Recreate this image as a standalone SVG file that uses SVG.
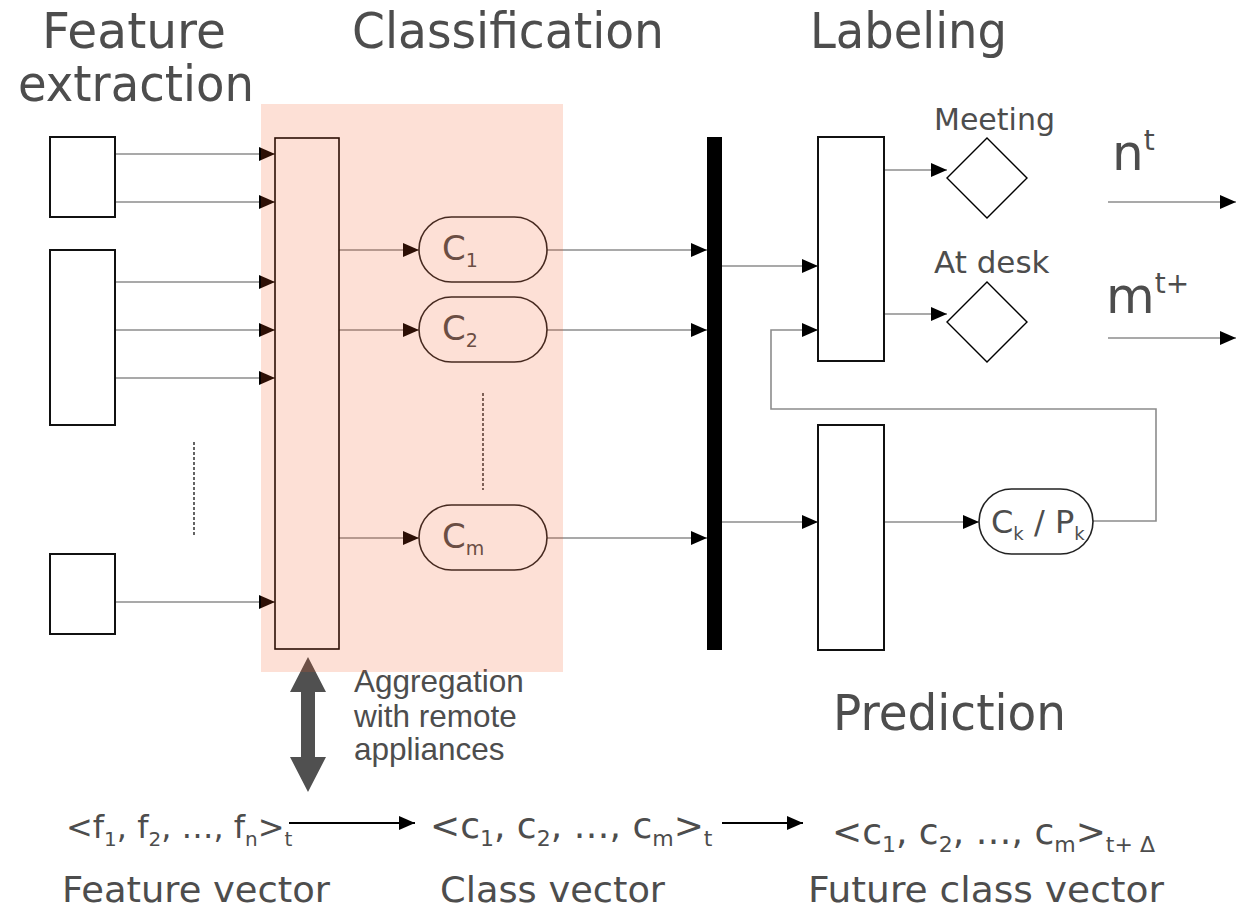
<svg xmlns="http://www.w3.org/2000/svg" width="1238" height="912" viewBox="0 0 1238 912">
<defs>
<style>
.t{font-family:"DejaVu Sans",Verdana,sans-serif;fill:#4d4d4d}
.a{font-family:"Liberation Sans",Arial,sans-serif;fill:#4d4d4d}
.box{fill:#fff;stroke:#111;stroke-width:2}
.pill{fill:#fff;stroke:#222;stroke-width:1.6}
.ln{fill:none;stroke:#8c8c8c;stroke-width:1.6}
.dot{fill:none;stroke:#111;stroke-width:1.3;stroke-dasharray:3 2}
</style>
<marker id="ah" viewBox="0 0 16 14" refX="16" refY="7" markerWidth="16" markerHeight="14" markerUnits="userSpaceOnUse" orient="auto">
<path d="M0,0 L16,7 L0,14 z" fill="#000"/>
</marker>
</defs>
<rect width="1238" height="912" fill="#fff"/>

<g id="titles">
<text class="t" x="42" y="48" font-size="50" textLength="184" lengthAdjust="spacingAndGlyphs">Feature</text>
<text class="t" x="18" y="101" font-size="50" textLength="236" lengthAdjust="spacingAndGlyphs">extraction</text>
<text class="t" x="352" y="48" font-size="50" textLength="312" lengthAdjust="spacingAndGlyphs">Classification</text>
<text class="t" x="810" y="48" font-size="50" textLength="197" lengthAdjust="spacingAndGlyphs">Labeling</text>
<text class="t" x="833" y="730" font-size="50" textLength="233" lengthAdjust="spacingAndGlyphs">Prediction</text>
</g>

<g id="connectors">
<line class="ln" x1="115" y1="154" x2="275" y2="154" marker-end="url(#ah)"/>
<line class="ln" x1="115" y1="202" x2="275" y2="202" marker-end="url(#ah)"/>
<line class="ln" x1="115" y1="282" x2="275" y2="282" marker-end="url(#ah)"/>
<line class="ln" x1="115" y1="330" x2="275" y2="330" marker-end="url(#ah)"/>
<line class="ln" x1="115" y1="378" x2="275" y2="378" marker-end="url(#ah)"/>
<line class="ln" x1="115" y1="602" x2="275" y2="602" marker-end="url(#ah)"/>
<line class="ln" x1="339" y1="250" x2="419" y2="250" marker-end="url(#ah)"/>
<line class="ln" x1="339" y1="330" x2="419" y2="330" marker-end="url(#ah)"/>
<line class="ln" x1="339" y1="538" x2="419" y2="538" marker-end="url(#ah)"/>
<line class="ln" x1="547" y1="250" x2="707" y2="250" marker-end="url(#ah)"/>
<line class="ln" x1="547" y1="330" x2="707" y2="330" marker-end="url(#ah)"/>
<line class="ln" x1="547" y1="538" x2="707" y2="538" marker-end="url(#ah)"/>
<line class="ln" x1="722" y1="266" x2="818" y2="266" marker-end="url(#ah)"/>
<line class="ln" x1="722" y1="522" x2="818" y2="522" marker-end="url(#ah)"/>
<line class="ln" x1="884" y1="170" x2="947" y2="170" marker-end="url(#ah)"/>
<line class="ln" x1="884" y1="314" x2="947" y2="314" marker-end="url(#ah)"/>
<line class="ln" x1="884" y1="522" x2="979" y2="522" marker-end="url(#ah)"/>
<path class="ln" d="M1093,521 H1156 V409 H771 V330 H818" marker-end="url(#ah)"/>
<line class="ln" x1="1108" y1="202" x2="1236" y2="202" marker-end="url(#ah)"/>
<line class="ln" x1="1108" y1="338" x2="1236" y2="338" marker-end="url(#ah)"/>
<line x1="289" y1="823" x2="415" y2="823" stroke="#000" stroke-width="2.2" marker-end="url(#ah)"/>
<line x1="722" y1="823" x2="803" y2="823" stroke="#000" stroke-width="2.2" marker-end="url(#ah)"/>
<line class="dot" x1="194" y1="442" x2="194" y2="537"/>
<line class="dot" x1="483" y1="393" x2="483" y2="490"/>
<polygon id="double-arrow" points="308,657 326,692 315,692 315,757 326,757 308,792 290,757 301,757 301,692 290,692" fill="#505050"/>
</g>

<g id="input1"><rect class="box" x="50" y="137" width="65" height="80"/></g>
<g id="input2"><rect class="box" x="50" y="250" width="65" height="175"/></g>
<g id="input3"><rect class="box" x="50" y="554" width="65" height="80"/></g>
<g id="aggregator"><rect x="275" y="138" width="64" height="511" fill="#fff" stroke="#000" stroke-width="1.6"/></g>

<g id="c1"><rect class="pill" x="419" y="217" width="128" height="65" rx="32.5"/>
<text class="t" x="442" y="260" font-size="34">C<tspan font-size="19" dy="7">1</tspan></text></g>
<g id="c2"><rect class="pill" x="419" y="297" width="128" height="65" rx="32.5"/>
<text class="t" x="442" y="340" font-size="34">C<tspan font-size="19" dy="7">2</tspan></text></g>
<g id="cm"><rect class="pill" x="419" y="505" width="128" height="65" rx="32.5"/>
<text class="t" x="442" y="548" font-size="34">C<tspan font-size="19" dy="7">m</tspan></text></g>

<g id="bar"><rect x="707" y="137" width="15" height="513" fill="#000"/></g>

<g id="labeling-box"><rect class="box" x="818" y="137" width="66" height="224" stroke-width="1.6"/></g>
<g id="prediction-box"><rect class="box" x="818" y="425" width="66" height="225" stroke-width="1.6"/></g>

<g id="meeting">
<polygon points="987,138 1027,178 987,218 947,178" fill="#fff" stroke="#000" stroke-width="1.4"/>
<text class="t" x="934" y="130" font-size="30">Meeting</text>
</g>
<g id="atdesk">
<polygon points="987,282 1027,322 987,362 947,322" fill="#fff" stroke="#000" stroke-width="1.4"/>
<text class="t" x="934" y="273" font-size="31">At desk</text>
</g>

<g id="ckpk"><rect class="pill" x="979" y="489" width="114" height="65" rx="32.5"/>
<text class="t" x="991" y="533" font-size="32">C<tspan font-size="18" dy="7">k</tspan><tspan dy="-7"> / P</tspan><tspan font-size="18" dy="7">k</tspan></text></g>

<g id="nt"><text class="t" x="1112" y="170" font-size="50">n<tspan font-size="28" dy="-20">t</tspan></text></g>
<g id="mt"><text class="t" x="1106" y="313" font-size="50">m<tspan font-size="28" dy="-20">t+</tspan></text></g>

<g id="aggregation-label">
<text class="a" x="354" y="692" font-size="31.5">Aggregation</text>
<text class="a" x="354" y="727" font-size="31.5">with remote</text>
<text class="a" x="354" y="760" font-size="31.5">appliances</text>
</g>

<g id="feature-vector">
<text class="t" x="66" y="838" font-size="32">&lt;f<tspan font-size="20" dy="8">1</tspan><tspan dy="-8">, f</tspan><tspan font-size="20" dy="8">2</tspan><tspan dy="-8">, …, f</tspan><tspan font-size="20" dy="8">n</tspan><tspan dy="-8">&gt;</tspan><tspan font-size="20" dy="8">t</tspan></text>
<text class="t" x="62" y="902" font-size="35" textLength="268" lengthAdjust="spacingAndGlyphs">Feature vector</text>
</g>
<g id="class-vector">
<text class="t" x="430" y="838" font-size="36">&lt;c<tspan font-size="22" dy="8">1</tspan><tspan dy="-8">, c</tspan><tspan font-size="22" dy="8">2</tspan><tspan dy="-8">, …, c</tspan><tspan font-size="22" dy="8">m</tspan><tspan dy="-8">&gt;</tspan><tspan font-size="22" dy="8">t</tspan></text>
<text class="t" x="440" y="902" font-size="35" textLength="225" lengthAdjust="spacingAndGlyphs">Class vector</text>
</g>
<g id="future-class-vector">
<text class="t" x="832" y="844" font-size="36">&lt;c<tspan font-size="22" dy="8">1</tspan><tspan dy="-8">, c</tspan><tspan font-size="22" dy="8">2</tspan><tspan dy="-8">, …, c</tspan><tspan font-size="22" dy="8">m</tspan><tspan dy="-8">&gt;</tspan><tspan font-size="22" dy="8">t+ Δ</tspan></text>
<text class="t" x="808" y="902" font-size="35" textLength="356" lengthAdjust="spacingAndGlyphs">Future class vector</text>
</g>

<rect id="classification-overlay" x="261" y="104" width="302" height="568" fill="#f4531c" fill-opacity="0.18"/>
</svg>
